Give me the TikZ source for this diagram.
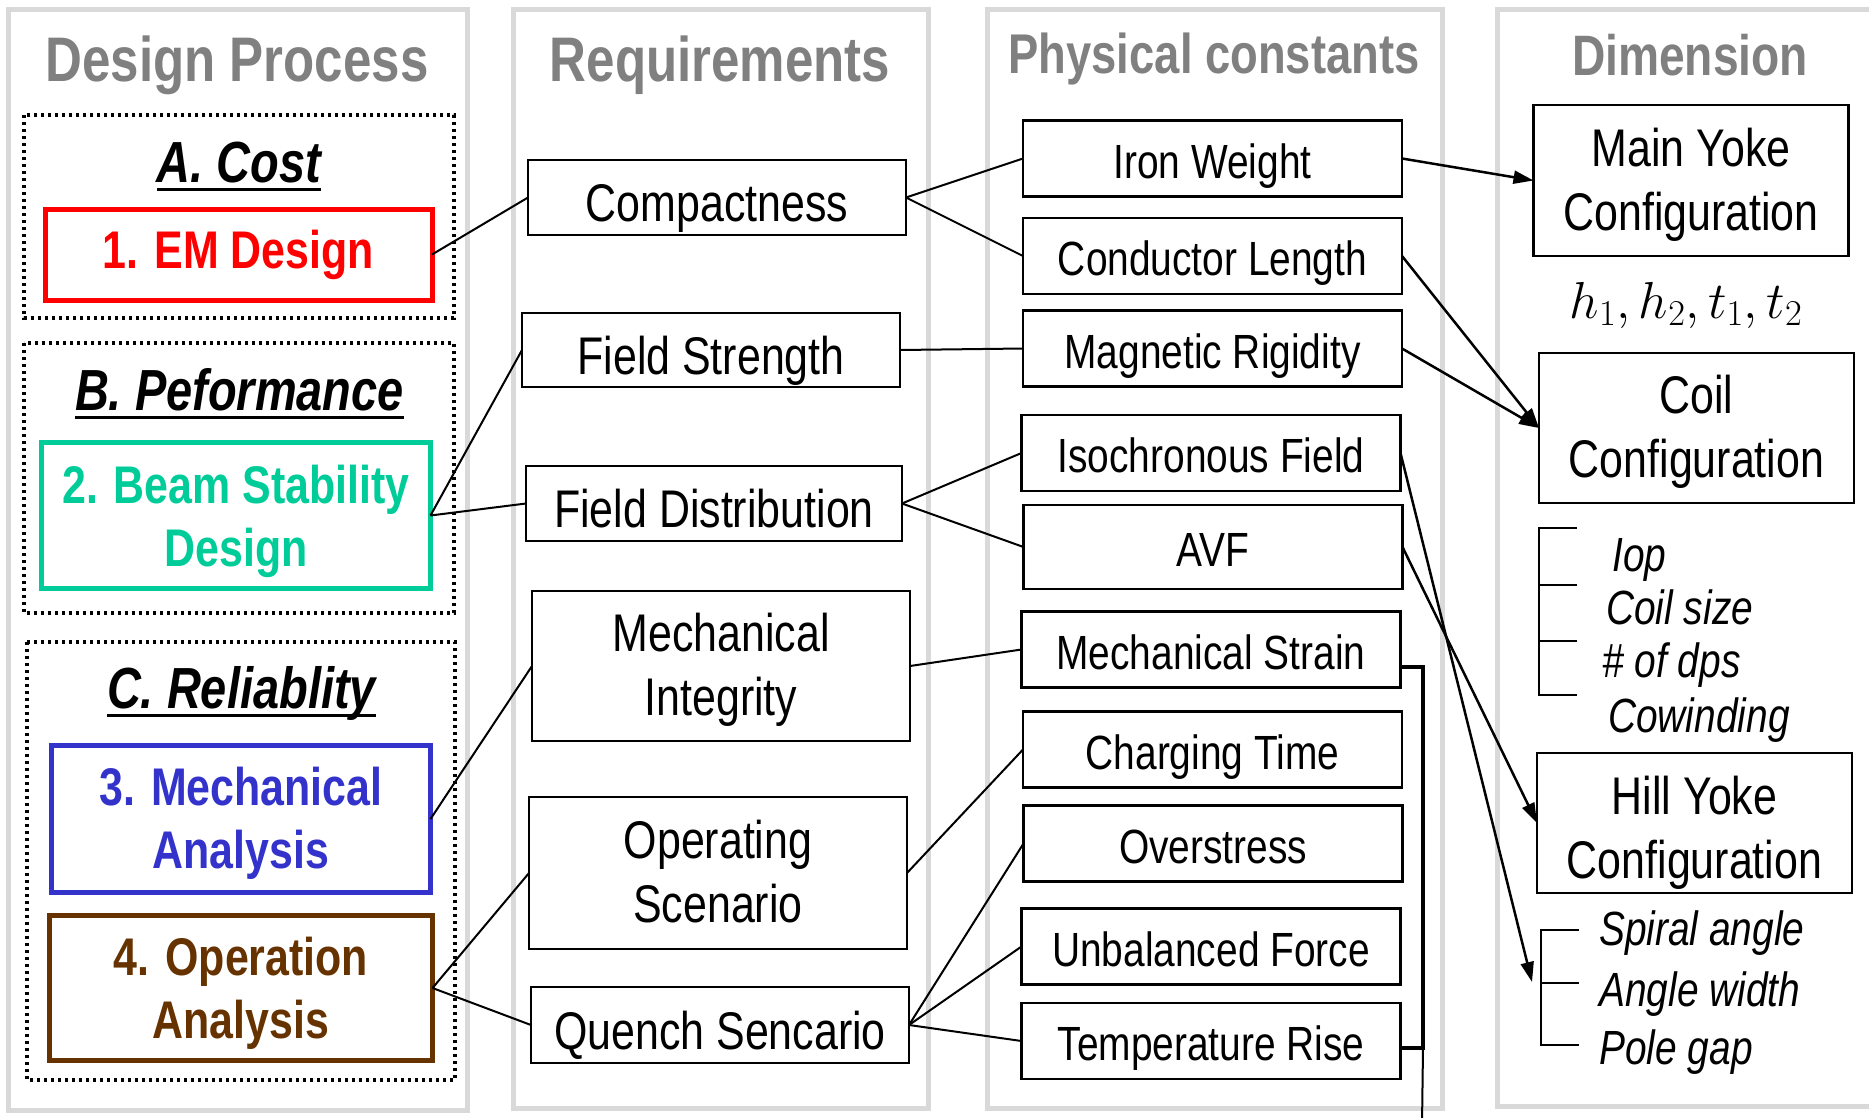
\documentclass[tikz,border=0pt]{standalone}
\usepackage{fix-cm}
\usepackage{fontspec}
\setmainfont[FakeStretch=0.81]{Liberation Sans}
\usetikzlibrary{arrows.meta}
\definecolor{panelGray}{RGB}{217,217,217}
\definecolor{titleGray}{RGB}{128,128,128}
\definecolor{emRed}{RGB}{255,0,0}
\definecolor{beamGreen}{RGB}{0,204,153}
\definecolor{mechBlue}{RGB}{51,51,204}
\definecolor{operBrown}{RGB}{102,51,0}
\newcommand{\ulword}[1]{\leavevmode\setbox0=\hbox{#1}\rlap{\vrule height -6pt depth 9pt width \wd0}\box0}

\begin{document}
\begin{tikzpicture}[x=1pt, y=-1pt,
    panel/.style={draw=panelGray, line width=5pt},
    group/.style={draw, line width=3.3pt, dash pattern=on 3.3pt off 3.7pt},
    ttl/.style={text=titleGray, font=\fontsize{63}{70}\selectfont\bfseries, anchor=base, inner sep=0pt},
    head/.style={font=\fontsize{58}{64}\selectfont\bfseries\itshape, anchor=base, inner sep=0pt},
    stage/.style={draw=#1, text=#1, line width=5pt, font=\fontsize{53}{63}\selectfont\bfseries,
      align=center, inner sep=0pt, outer sep=0pt, text height=99pt, text depth=0pt},
    reqbox/.style={draw, line width=2.5pt, font=\fontsize{53}{64}\selectfont, align=center,
      inner sep=0pt, outer sep=0pt, minimum width=378pt, text height=48pt, text depth=0pt},
    twoline/.style={text height=99pt, text depth=0pt},
    constbox/.style={draw, line width=2.5pt, font=\fontsize{48}{56}\selectfont, inner sep=0pt,
      outer sep=0pt, minimum width=379pt, minimum height=76pt, text height=39pt, text depth=0pt},
    list/.style={font=\fontsize{48}{54}\selectfont\itshape, anchor=base west, inner sep=0pt},
    tick/.style={line width=1.8pt},
    link/.style={line width=2pt},
    feed/.style={line width=2.5pt, -{Triangle[length=20pt, width=13pt]}},
    brace/.style={line width=3.5pt}
  ]
  \useasboundingbox (0,0) rectangle (1869,1117);
  \clip (0,0) rectangle (1869,1117);

  % columns
  \draw[panel] (8,9) rectangle (467,1110);
  \draw[panel] (513,9) rectangle (928,1108);
  \draw[panel] (987,9) rectangle (1442,1108);
  \draw[panel] (1497,9) rectangle (1885,1106);

  \node[ttl] (tdesign) at (237,81) {Design Process};
  \node[ttl] (treq) at (720,81) {Requirements};
  \node[ttl, font=\fontsize{56}{62}\selectfont\bfseries] (tconst) at (1214,73) {Physical constants};
  \node[ttl, font=\fontsize{57}{62}\selectfont\bfseries] (tdim) at (1690,75) {Dimension};

  % design process
  \draw[group] (24,115) rectangle (454,318);
  \draw[group] (24,343) rectangle (454,613);
  \draw[group] (27,642) rectangle (455,1080);

  \node[head] (hcost) at (239,182) {\ulword{A. Cost}};
  \node[head] (hperf) at (239.5,410) {\ulword{B. Peformance}};
  \node[head] (hrel) at (241.5,708) {\ulword{C. Reliablity}};

  \node[stage=emRed, minimum width=387pt, minimum height=91pt, text height=27pt, text depth=0pt]
    (em) at (238.5,254.5) {1. EM Design};
  \node[stage=beamGreen, minimum width=389pt, minimum height=146pt, text height=101pt]
    (beam) at (236,515.5) {2. Beam Stability\\Design};
  \node[stage=mechBlue, minimum width=379pt, minimum height=147pt]
    (mech) at (241,819) {3. Mechanical\\Analysis};
  \node[stage=operBrown, minimum width=383pt, minimum height=145pt, text height=101pt]
    (oper) at (241,988) {4. Operation\\Analysis};

  % requirements
  \node[reqbox, minimum height=75pt] (comp) at (717,197.5) {Compactness};
  \node[reqbox, minimum height=74pt] (fstr) at (711,350) {Field Strength};
  \node[reqbox, minimum height=75pt, minimum width=376pt] (fdist) at (714,503.5) {Field Distribution};
  \node[reqbox, twoline, minimum height=150pt] (mint) at (721,666) {Mechanical\\Integrity};
  \node[reqbox, twoline, minimum height=152pt] (opsc) at (718,873) {Operating\\Scenario};
  \node[reqbox, minimum height=76pt] (qsc) at (720,1025) {Quench Sencario};

  % physical constants
  \node[constbox] (iron) at (1212.5,158.5) {Iron Weight};
  \node[constbox] (cond) at (1212.5,256) {Conductor Length};
  \node[constbox] (magr) at (1212.5,348.5) {Magnetic Rigidity};
  \node[constbox] (iso) at (1211,453) {Isochronous Field};
  \node[constbox, minimum height=84pt] (avf) at (1213,547) {AVF};
  \node[constbox] (mstr) at (1211,649.5) {Mechanical Strain};
  \node[constbox] (chg) at (1212.5,749.5) {Charging Time};
  \node[constbox] (ovs) at (1213,843.5) {Overstress};
  \node[constbox] (unb) at (1211,946.5) {Unbalanced Force};
  \node[constbox] (temp) at (1211,1041) {Temperature Rise};

  % dimension
  \node[reqbox, twoline, minimum width=315pt, minimum height=151pt] (myoke) at (1691,180.5) {Main Yoke\\Configuration};
  \node[anchor=base, inner sep=0pt, font=\fontsize{52}{56}\selectfont] (hvar) at (1686,318) {$h_1, h_2, t_1, t_2$};
  \node[reqbox, twoline, minimum width=315pt, minimum height=150pt] (coil) at (1696.5,428) {Coil\\Configuration};
  \node[list] (iop) at (1612,571) {Iop};
  \node[list] (csize) at (1606,624) {Coil size};
  \node[list] (ndps) at (1602,677) {\# of dps};
  \node[list] (cowind) at (1608,732) {Cowinding};
  \node[reqbox, minimum width=315pt, minimum height=140pt, text height=111pt] (hyoke) at (1694.5,823) {Hill Yoke\\Configuration};
  \node[list] (spiral) at (1599,945) {Spiral angle};
  \node[list] (awidth) at (1599,1006) {Angle width};
  \node[list] (pgap) at (1599,1064) {Pole gap};

  \draw[tick] (1577,528) -- (1539,528) -- (1539,695) -- (1577,695);
  \draw[tick] (1539,585) -- (1577,585);
  \draw[tick] (1539,641) -- (1577,641);
  \draw[tick] (1579,930) -- (1541,930) -- (1541,1045) -- (1579,1045);
  \draw[tick] (1541,983) -- (1579,983);

  % links
  \draw[link] (em.east) -- (comp.west);
  \draw[link] (beam.east) -- (fstr.west);
  \draw[link] (beam.east) -- (fdist.west);
  \draw[link] (mech.east) -- (mint.west);
  \draw[link] (oper.east) -- (opsc.west);
  \draw[link] (oper.east) -- (qsc.west);

  \draw[link] (comp.east) -- (iron.west);
  \draw[link] (comp.east) -- (cond.west);
  \draw[link] (fstr.east) -- (magr.west);
  \draw[link] (fdist.east) -- (iso.west);
  \draw[link] (fdist.east) -- (avf.west);
  \draw[link] (mint.east) -- (mstr.west);
  \draw[link] (opsc.east) -- (chg.west);
  \draw[link] (qsc.east) -- (ovs.west);
  \draw[link] (qsc.east) -- (unb.west);
  \draw[link] (qsc.east) -- (temp.west);

  \draw[feed] (iron.east) -- (myoke.west);
  \draw[feed] (cond.east) -- (coil.west);
  \draw[feed] (magr.east) -- (coil.west);
  \draw[feed] (avf.east) -- (hyoke.west);
  \coordinate (spot) at (1532,982);
  \draw[feed] (iso.east) -- (spot);

  \coordinate (braceTop) at (1423,667);
  \coordinate (braceBot) at (1423,1048);
  \coordinate (braceEnd) at (1422,1125);
  \draw[brace] (mstr.east |- braceTop) -- (braceTop) -- (braceBot) -- (temp.east |- braceBot);
  \draw[link] (braceBot) -- (braceEnd);
\end{tikzpicture}
\end{document}
